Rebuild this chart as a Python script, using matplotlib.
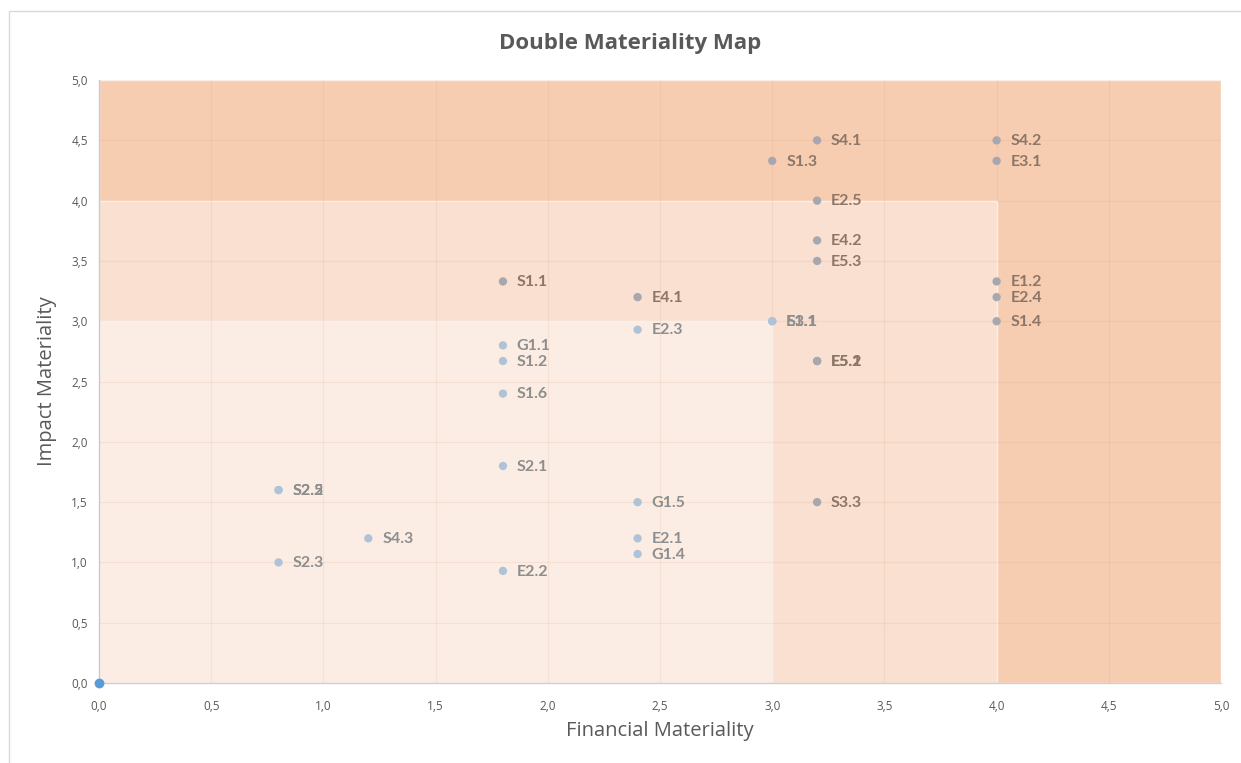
import numpy as np
import matplotlib
matplotlib.use('Agg')
import matplotlib.pyplot as plt
from matplotlib.patches import Rectangle
from matplotlib.ticker import FuncFormatter, MultipleLocator

# ── Data ───────────────────────────────────────────────────────────────────────
labels = ['S4.1', 'S4.2', 'S1.3', 'E3.1', 'E2.5', 'E4.2', 'E5.3', 'E1.2',
          'E2.4', 'S1.4', 'S3.1', 'E1.1', 'E5.1', 'E5.2', 'S1.1', 'E4.1',
          'E2.3', 'G1.1', 'S1.2', 'S1.6', 'S2.1', 'S2.2', 'S2.5', 'G1.5',
          'S3.3', 'S4.3', 'E2.1', 'G1.4', 'S2.3', 'E2.2']
financial = [3.2, 4.0, 3.0, 4.0, 3.2, 3.2, 3.2, 4.0,
             4.0, 4.0, 3.0, 3.0, 3.2, 3.2, 1.8, 2.4,
             2.4, 1.8, 1.8, 1.8, 1.8, 0.8, 0.8, 2.4,
             3.2, 1.2, 2.4, 2.4, 0.8, 1.8]
impact = [4.5, 4.5, 4.33, 4.33, 4.0, 3.67, 3.5, 3.33,
          3.2, 3.0, 3.0, 3.0, 2.67, 2.67, 3.33, 3.2,
          2.93, 2.8, 2.67, 2.4, 1.8, 1.6, 1.6, 1.5,
          1.5, 1.2, 1.2, 1.07, 1.0, 0.93]

# materiality zones: (x limit, y limit, colour), drawn outer → inner
zones = [(5.0, 5.0, '#F7CDB1'),
         (4.0, 4.0, '#F9E0D0'),
         (3.0, 3.0, '#FCEDE4')]

# ── Plot ───────────────────────────────────────────────────────────────────────
plt.rcParams['font.family'] = ['Open Sans', 'DejaVu Sans']

fig = plt.figure(figsize=(12.41, 7.63), dpi=100)
ax = fig.add_axes([0.0798, 0.1048, 0.9041, 0.7903])

# chart frame
fig.patches.append(Rectangle((0.0073, -0.01), 1.1, 0.995, transform=fig.transFigure,
                             fill=False, edgecolor='#D9D9D9', linewidth=1.0))

for xl, yl, col in zones:
    ax.add_patch(Rectangle((0, 0), xl, yl, facecolor=col, edgecolor='white',
                           linewidth=1.0, zorder=0))

ax.set_xlim(0, 5)
ax.set_ylim(0, 5)
ax.xaxis.set_major_locator(MultipleLocator(0.5))
ax.yaxis.set_major_locator(MultipleLocator(0.5))
fmt = FuncFormatter(lambda v, p: f'{v:.1f}'.replace('.', ','))
ax.xaxis.set_major_formatter(fmt)
ax.yaxis.set_major_formatter(fmt)
ax.grid(True, color='#D9A080', alpha=0.16, linewidth=0.9, zorder=1)
ax.set_axisbelow(False)
ax.tick_params(length=0, labelsize=8.5, colors='#595959')
ax.tick_params(axis='x', pad=12)
ax.tick_params(axis='y', pad=8)

for side in ['top', 'right']:
    ax.spines[side].set_visible(False)
for side in ['left', 'bottom']:
    ax.spines[side].set_color('#D0D0D0')
    ax.spines[side].set_linewidth(1.0)

x = np.array(financial)
y = np.array(impact)
inner = (x <= 3.0) & (y <= 3.0)
colors = np.where(inner, '#AFC3D8', '#A7A7AF')
ax.scatter(x, y, s=36, c=colors, zorder=3, linewidths=0)
ax.scatter([0], [0], s=50, c='#5B9BD5', zorder=4, linewidths=0, clip_on=False)

for lab, xi, yi, inn in zip(labels, x, y, inner):
    ax.annotate(lab, (xi, yi), xytext=(10, -0.5), textcoords='offset points',
                va='center', ha='left', fontsize=11.5, fontweight='bold',
                family=['Lato', 'DejaVu Sans'],
                color='#8E8E8E' if inn else '#8C7668', zorder=5)

fig.text(630 / 1241, 1 - 44 / 763, 'Double Materiality Map', fontsize=16,
         fontweight='bold', color='#595959', ha='center', va='center')
ax.set_xlabel('Financial Materiality', fontsize=14.5, color='#595959', labelpad=6)
ax.set_ylabel('Impact Materiality', fontsize=14.5, color='#595959', labelpad=10)

fig.savefig('out.png', dpi=100)
